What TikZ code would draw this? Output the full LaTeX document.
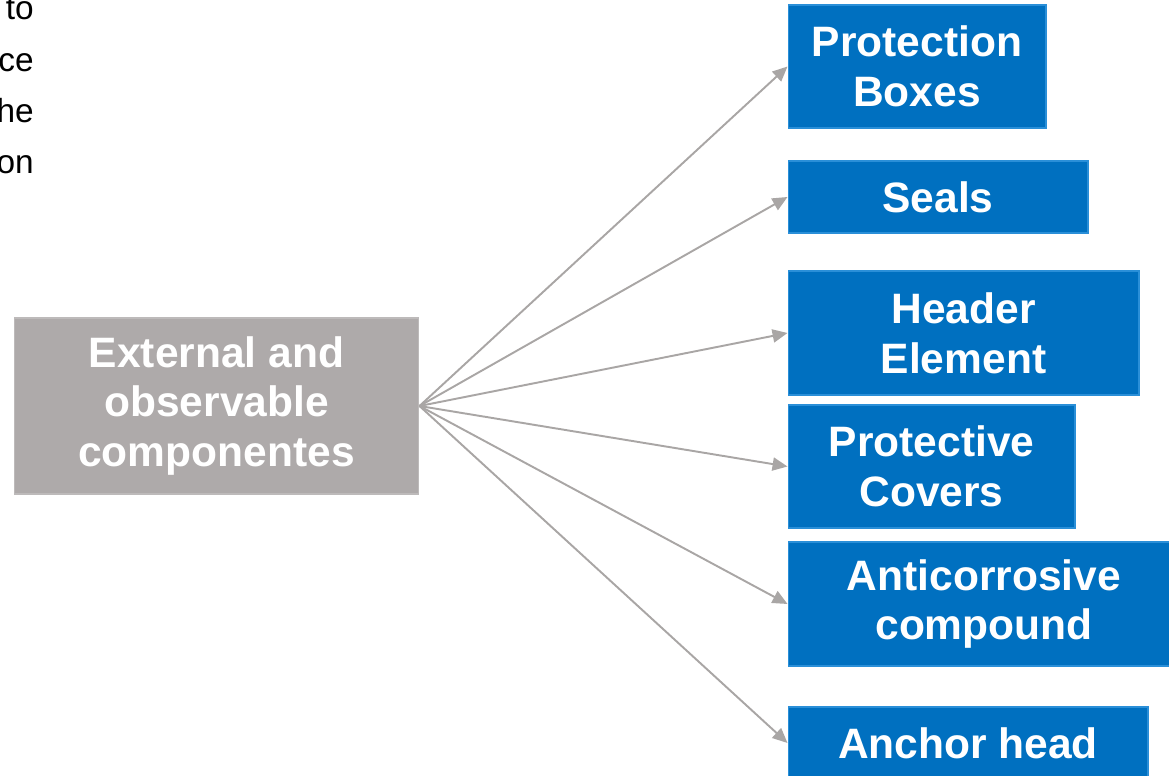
\documentclass[tikz,border=0pt]{standalone}
\usepackage{fontspec}
\setmainfont{Liberation Sans}
\usepackage{xcolor}
\usepackage{tikz}
\usetikzlibrary{arrows.meta}
\definecolor{partblue}{HTML}{0070C0}
\definecolor{partedge}{HTML}{2A8FD8}
\definecolor{maingray}{HTML}{AEAAAA}
\definecolor{mainedge}{HTML}{BDBABA}
\definecolor{linkgray}{HTML}{A9A6A5}
\tikzset{
  partbox/.style={
    draw=partedge,
    fill=partblue,
    rectangle,
    line width=0.6pt,
    inner sep=0pt,
    align=center,
    text=white,
    font=\fontsize{24.2}{28.4}\selectfont\bfseries
  },
  mainbox/.style={
    partbox,
    draw=mainedge,
    fill=maingray
  },
  link/.style={
    draw=linkgray,
    line width=1.1pt,
    -{Triangle[length=8.5pt,width=7.5pt]}
  }
}

\begin{document}
\begin{tikzpicture}[x=0.02cm, y=-0.02cm]
  \clip (0,0) rectangle (1169,776);

  % cut-off text at the top left
  \node[anchor=north east, align=right, inner sep=0pt,
        font=\fontsize{19}{29.2}\selectfont] (rest) at (34,-2) {to\\ce\\he\\on};

  \node[mainbox, minimum width=8.1cm, minimum height=3.52cm] (ext) at (216.5,406)
    {External and\\observable\\componentes};

  \node[partbox, minimum width=5.16cm, minimum height=2.46cm] (boxes) at (917,66.5)
    {Protection\\Boxes};
  \node[partbox, minimum width=6.0cm, minimum height=1.44cm] (seals) at (938,197)
    {Seals};
  \node[partbox, minimum width=7.02cm, minimum height=2.48cm] (header) at (963.5,333)
    {Header\\Element};
  \node[partbox, minimum width=5.74cm, minimum height=2.46cm] (covers) at (931.5,466.5)
    {Protective\\Covers};
  \node[partbox, minimum width=7.84cm, minimum height=2.48cm] (anti) at (984,604)
    {Anticorrosive\\compound};
  \node[partbox, minimum width=7.2cm, minimum height=1.44cm] (anchor) at (968,743)
    {Anchor head};

  \foreach \part in {boxes,seals,header,covers,anti,anchor}
    \draw[link] (ext.east) -- (\part.west);
\end{tikzpicture}
\end{document}
